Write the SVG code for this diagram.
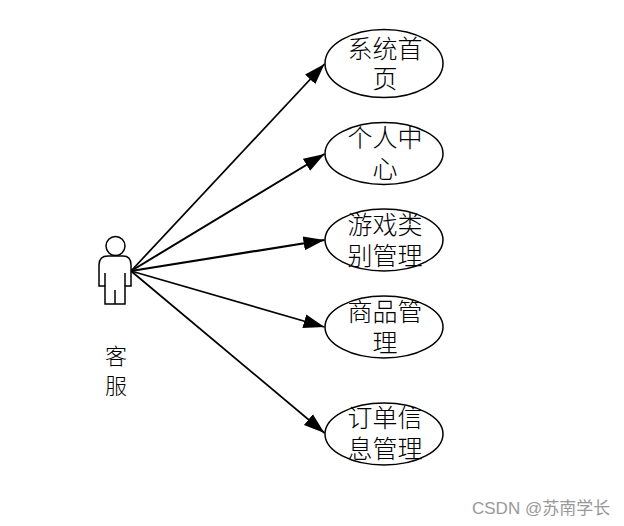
<svg xmlns="http://www.w3.org/2000/svg" width="624" height="526" viewBox="0 0 624 526">
<style>
.u{fill:#fff;stroke:#000;stroke-width:1.5}
.t{font-family:"Noto Sans CJK SC","Liberation Serif",serif;font-size:25px;fill:#000;text-anchor:middle;font-weight:300}
.c{stroke:#000;stroke-width:1.7;fill:none;marker-end:url(#a)}
.w{font-family:"Liberation Sans","Noto Sans CJK SC",sans-serif;font-size:17px;fill:#999}
</style>
<defs><marker id="a" markerUnits="userSpaceOnUse" markerWidth="22" markerHeight="16" refX="21" refY="7" orient="auto" viewBox="0 0 22 14"><path d="M0 0L21 7L0 14Z" fill="#000"/></marker></defs>
<rect width="624" height="526" fill="#fff"/>
<g id="connectors">
<path class="c" d="M131 271L324.500 64"/>
<path class="c" d="M131 271L324.500 154" style="stroke-width:2"/>
<path class="c" d="M131 271L324.500 240" style="stroke-width:2.200"/>
<path class="c" d="M131 271L324.500 327"/>
<path class="c" d="M131 271L324.500 433"/>
</g>
<g id="actor">
<circle class="u" cx="115.500" cy="246" r="9.500"/>
<path class="u" d="M99 286V265Q99 256 108 256H123Q131 256 131 265V286H125V304H105V286Z"/>
<path fill="none" stroke="#000" stroke-width="1.500" d="M105 273V286M125 273V286M115 290V304"/>
<text class="t" style="font-size:22px"><tspan x="116" y="364">客</tspan><tspan x="116" y="394">服</tspan></text>
</g>
<g id="n1"><ellipse class="u" cx="384" cy="63.500" rx="59" ry="34"/><text class="t"><tspan x="385" y="58">系统首</tspan><tspan x="385" y="88">页</tspan></text></g>
<g id="n2"><ellipse class="u" cx="384" cy="153.500" rx="59" ry="31"/><text class="t"><tspan x="385" y="147">个人中</tspan><tspan x="385" y="178">心</tspan></text></g>
<g id="n3"><ellipse class="u" cx="384" cy="240" rx="59" ry="31"/><text class="t"><tspan x="385" y="234">游戏类</tspan><tspan x="385" y="265">别管理</tspan></text></g>
<g id="n4"><ellipse class="u" cx="384" cy="327" rx="59" ry="31"/><text class="t"><tspan x="385" y="321">商品管</tspan><tspan x="385" y="352">理</tspan></text></g>
<g id="n5"><ellipse class="u" cx="384" cy="434" rx="59" ry="31"/><text class="t"><tspan x="385" y="427">订单信</tspan><tspan x="385" y="458">息管理</tspan></text></g>
<text class="w" x="472" y="514">CSDN @苏南学长</text>
</svg>
